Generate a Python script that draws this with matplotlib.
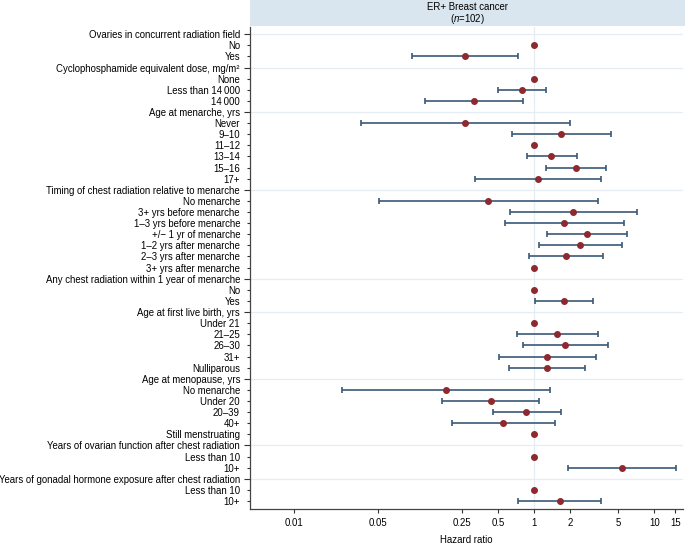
import matplotlib
matplotlib.use('Agg')
import matplotlib.pyplot as plt
from matplotlib.patches import Rectangle
import numpy as np

plt.rcParams['font.family'] = ['Liberation Sans', 'DejaVu Sans']
plt.rcParams['mathtext.fontset'] = 'custom'
plt.rcParams['mathtext.rm'] = 'Liberation Sans'
plt.rcParams['mathtext.it'] = 'Liberation Sans:italic'

# rows of the forest plot, top to bottom; None means no estimate (group header)
labels = ['Ovaries in concurrent radiation field', 'No', 'Yes',
          'Cyclophosphamide equivalent dose, mg/m\u00b2', 'None', 'Less than 14\u2009000', '14\u2009000',
          'Age at menarche, yrs', 'Never', '9\u201310', '11\u201312', '13\u201314', '15\u201316', '17+',
          'Timing of chest radiation relative to menarche', 'No menarche',
          '3+ yrs before menarche', '1\u20133 yrs before menarche', '+/\u2212 1 yr of menarche',
          '1\u20132 yrs after menarche', '2\u20133 yrs after menarche', '3+ yrs after menarche',
          'Any chest radiation within 1 year of menarche', 'No', 'Yes',
          'Age at first live birth, yrs', 'Under 21', '21\u201325', '26\u201330', '31+', 'Nulliparous',
          'Age at menopause, yrs', 'No menarche', 'Under 20', '20\u201339', '40+', 'Still menstruating',
          'Years of ovarian function after chest radiation', 'Less than 10', '10+',
          'Years of gonadal hormone exposure after chest radiation', 'Less than 10', '10+']

is_header = [True, False, False,
             True, False, False, False,
             True, False, False, False, False, False, False,
             True, False, False, False, False, False, False, False,
             True, False, False,
             True, False, False, False, False, False,
             True, False, False, False, False, False,
             True, False, False,
             True, False, False]

hr = [None, 1, 0.265,
      None, 1, 0.785, 0.314,
      None, 0.265, 1.68, 1, 1.386, 2.23, 1.067,
      None, 0.414, 2.10, 1.77, 2.75, 2.42, 1.83, 1,
      None, 1, 1.77,
      None, 1, 1.555, 1.80, 1.28, 1.28,
      None, 0.184, 0.433, 0.858, 0.548, 1,
      None, 1, 5.35,
      None, 1, 1.63]

ci_low = [None, None, 0.0953,
          None, None, 0.496, 0.122,
          None, 0.036, 0.656, None, 0.864, 1.245, 0.322,
          None, 0.051, 0.627, 0.567, 1.276, 1.10, 0.898, None,
          None, None, 1.01,
          None, None, 0.713, 0.80, 0.505, 0.612,
          None, 0.0251, 0.171, 0.453, 0.207, None,
          None, None, 1.91,
          None, None, 0.736]

ci_high = [None, None, 0.727,
           None, None, 1.25, 0.805,
           None, 1.97, 4.33, None, 2.26, 3.98, 3.57,
           None, 3.38, 7.13, 5.62, 5.89, 5.41, 3.74, None,
           None, None, 3.10,
           None, None, 3.38, 4.11, 3.27, 2.66,
           None, 1.35, 1.094, 1.66, 1.48, None,
           None, None, 15.2,
           None, None, 3.59]

xticks = [0.01, 0.05, 0.25, 0.5, 1, 2, 5, 10, 15]
xticklabels = ['0.01', '0.05', '0.25', '0.5', '1', '2', '5', '10', '15']

W, H = 685, 545
fs = 6.9
fig = plt.figure(figsize=(W / 100, H / 100), dpi=100)
ax = fig.add_axes([250 / W, (H - 509.3) / H, (683 - 250) / W, (509.3 - 26.7) / H])

pos = np.arange(1, len(labels) + 1)
point_col = '#8e2a2f'
bar_col = '#3b5977'
grid_col = '#e6edf2'

# separators at group headers and reference line at 1
for y, h in zip(pos, is_header):
    if h:
        ax.axhline(y, color=grid_col, lw=0.9, zorder=0)
ax.axvline(1, color=grid_col, lw=0.9, zorder=0)

for y, v, lo, hi in zip(pos, hr, ci_low, ci_high):
    if v is None:
        continue
    if lo is not None:
        ax.errorbar(v, y, xerr=[[v - lo], [hi - v]], fmt='none', ecolor=bar_col,
                    elinewidth=1.2, capsize=2.2, capthick=1.2, zorder=2)
    ax.plot(v, y, 'o', color=point_col, ms=4.0, mec=point_col, zorder=3)

ax.set_xscale('log')
ax.set_xlim(10 ** ((250 - 534.3) / 120), 10 ** ((683 - 534.3) / 120))
ax.set_ylim(len(labels) + 0.75, 0.32)

head_pos = [p for p, h in zip(pos, is_header) if h]
head_lab = [l for l, h in zip(labels, is_header) if h]
item_pos = [p for p, h in zip(pos, is_header) if not h]
item_lab = [l for l, h in zip(labels, is_header) if not h]
ax.set_yticks(head_pos, labels=head_lab)
ax.set_yticks(item_pos, labels=item_lab, minor=True)
ax.tick_params(axis='y', which='major', length=4.3, width=0.8, pad=2.9, labelsize=fs, color='#333333')
ax.tick_params(axis='y', which='minor', length=2.2, width=0.8, pad=5.0, labelsize=fs, color='#333333')

ax.set_xticks(xticks, labels=xticklabels)
ax.xaxis.set_minor_locator(matplotlib.ticker.NullLocator())
ax.tick_params(axis='x', length=3, width=0.8, pad=3, labelsize=fs, color='#333333')
ax.set_xlabel('Hazard ratio', fontsize=fs, labelpad=5)

for side in ['top', 'right']:
    ax.spines[side].set_visible(False)
for side in ['left', 'bottom']:
    ax.spines[side].set_color('#444444')
    ax.spines[side].set_linewidth(0.9)

# header strip
fig.patches.append(Rectangle((250 / W, (H - 26) / H), (W - 250) / W, 26 / H,
                             transform=fig.transFigure, facecolor='#dae6ef',
                             edgecolor='none'))
fig.text(467.5 / W, 1 - 7.5 / H, 'ER+ Breast cancer', ha='center', va='center', fontsize=fs)
fig.text(467.5 / W, 1 - 18.5 / H, r'($\it{n}$=102)', ha='center', va='center', fontsize=fs)

fig.savefig('out.png', dpi=100)
